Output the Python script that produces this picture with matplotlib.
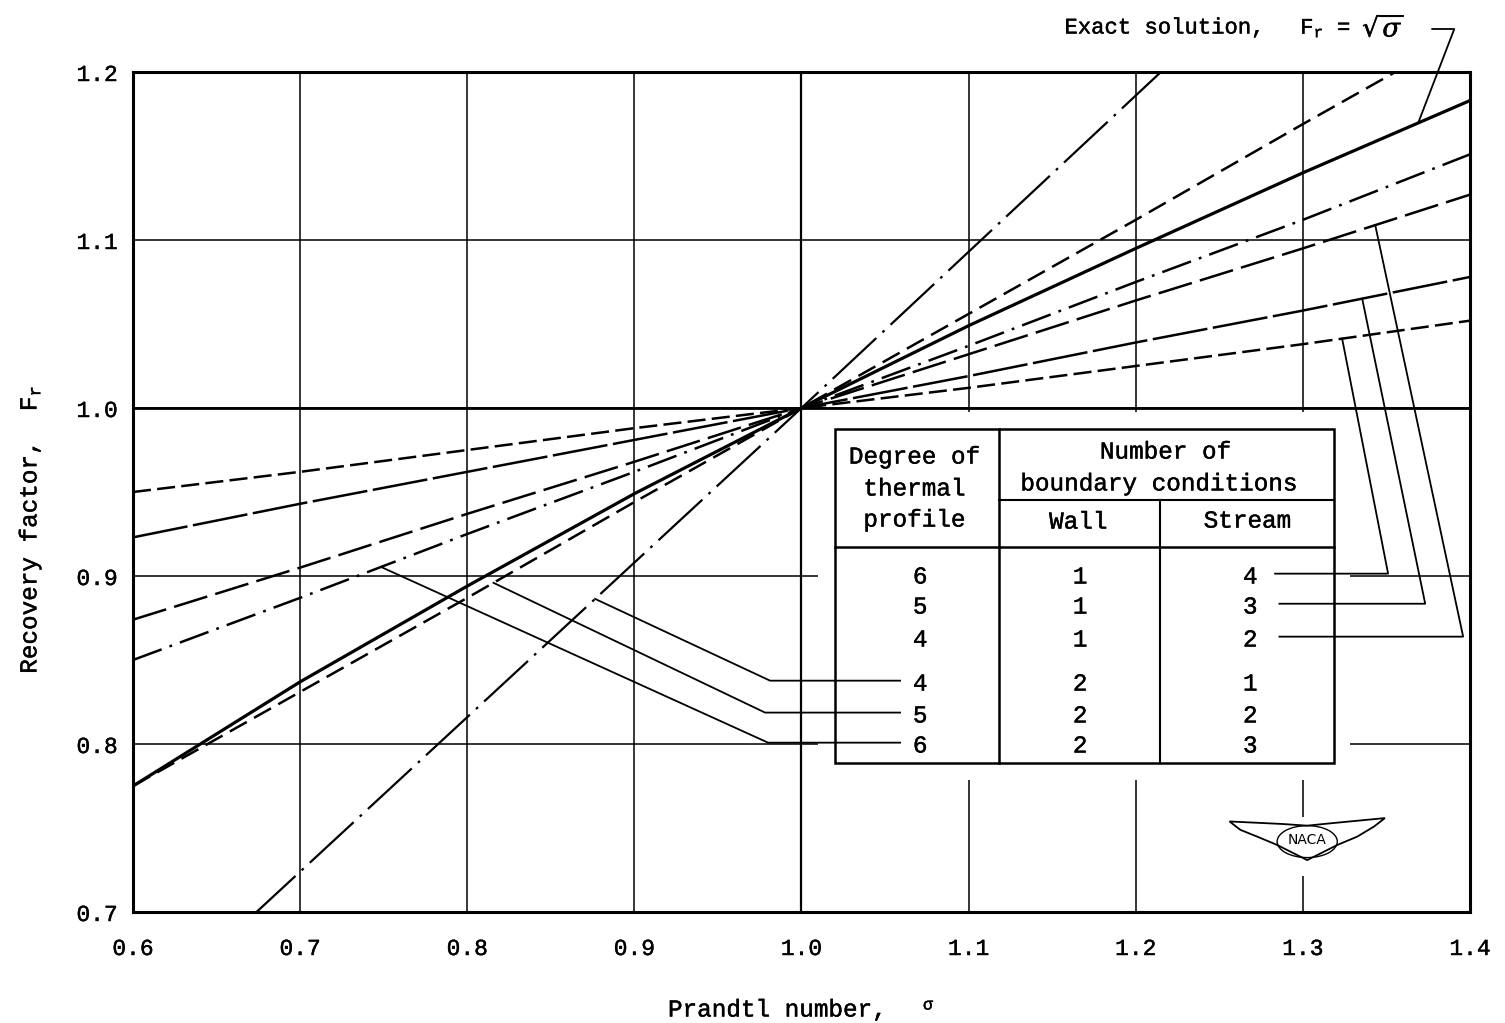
import numpy as np
import matplotlib.pyplot as plt
import matplotlib.patheffects as pe
from matplotlib.text import Text
from matplotlib.patches import Rectangle, Polygon, Ellipse

plt.rcParams['font.family'] = ['Liberation Mono', 'DejaVu Sans']
plt.rcParams['mathtext.fontset'] = 'dejavuserif'
plt.rcParams['lines.scale_dashes'] = False

# Prandtl number where the curves were read
sigma = [0.6, 0.7, 0.8, 0.9, 1.0, 1.1, 1.2, 1.3, 1.4]

# recovery factor (name = degree / wall / stream conditions)
exact = [0.775, 0.837, 0.894, 0.949, 1.0, 1.049, 1.095, 1.140, 1.183]
p6_w1_s4 = [0.950, 0.962, 0.975, 0.988, 1.0, 1.012, 1.025, 1.038, 1.052]
p5_w1_s3 = [0.923, 0.943, 0.962, 0.981, 1.0, 1.019, 1.039, 1.058, 1.078]
p4_w1_s2 = [0.874, 0.905, 0.937, 0.968, 1.0, 1.032, 1.064, 1.095, 1.127]
p6_w2_s3 = [0.850, 0.887, 0.925, 0.962, 1.0, 1.037, 1.075, 1.112, 1.151]
p5_w2_s2 = [0.775, 0.831, 0.887, 0.944, 1.0, 1.056, 1.112, 1.169, 1.225]
p4_w2_s1 = [0.632, 0.724, 0.816, 0.908, 1.0, 1.093, 1.186, 1.279, 1.372]

# table in the chart
degree = [6, 5, 4, 4, 5, 6]
wall = [1, 1, 1, 2, 2, 2]
stream = [4, 3, 2, 1, 2, 3]
row_y = [0.8994, 0.8815, 0.8619, 0.8357, 0.8167, 0.7988]

xticks = [0.6, 0.7, 0.8, 0.9, 1.0, 1.1, 1.2, 1.3, 1.4]
yticks = [0.7, 0.8, 0.9, 1.0, 1.1, 1.2]

fig = plt.figure(figsize=(15.05, 10.23), dpi=100)
ax = fig.add_axes([0.08837, 0.10850, 0.88837, 0.82111])
ax.set_xlim(0.6, 1.4)
ax.set_ylim(0.7, 1.2)
ax.set_xticks(xticks)
ax.set_xticklabels([f'{t:.1f}' for t in xticks])
ax.set_yticks(yticks)
ax.set_yticklabels([f'{t:.1f}' for t in yticks])
ax.tick_params(length=0, labelsize=16.5)
ax.tick_params(axis='x', pad=18)
ax.tick_params(axis='y', pad=11)
for s in ax.spines.values():
    s.set_linewidth(2.2)

ax.set_axisbelow(True)
ax.grid(True, color='k', lw=1.1)
ax.axhline(1.0, color='k', lw=2.0, zorder=0.6)
ax.axvline(1.0, color='k', lw=1.6, zorder=0.6)

# white margin round the table and the logo (gaps in the grid)
ax.add_patch(Rectangle((1.0099, 0.7786), 0.3184, 0.2190, fc='white', ec='none', zorder=1))
ax.add_patch(Rectangle((1.290, 0.7214), 0.025, 0.0351, fc='white', ec='none', zorder=1))

# curves
ax.plot(sigma, exact, color='k', lw=2.3, zorder=2)
ax.plot(sigma, p6_w1_s4, color='k', lw=1.8, dashes=(13, 4.5), zorder=2)
ax.plot(sigma, p5_w1_s3, color='k', lw=1.8, dashes=(40, 4), zorder=2)
ax.plot(sigma, p4_w1_s2, color='k', lw=1.8, dashes=(25, 6), zorder=2)
ax.plot(sigma, p6_w2_s3, color='k', lw=1.8, dashes=(22, 6, 2, 6), zorder=2)
ax.plot(sigma, p5_w2_s2, color='k', lw=1.8, dashes=(14, 6), zorder=2)
ax.plot(sigma, p4_w2_s1, color='k', lw=1.6, dashes=(43, 6, 2, 6), zorder=2)

# table
L, R, T, B = 1.0201, 1.3187, 0.9875, 0.7887
c1, c2 = 1.1182, 1.2146
ax.add_patch(Rectangle((L, B), R - L, T - B, fc='white', ec='k', lw=1.8, zorder=3))
ax.plot([c1, c1], [B, T], color='k', lw=1.8, zorder=3)
ax.plot([c2, c2], [B, 0.9452], color='k', lw=1.5, zorder=3)
ax.plot([c1, R], [0.9452, 0.9452], color='k', lw=1.5, zorder=3)
ax.plot([L, R], [0.9173, 0.9173], color='k', lw=1.8, zorder=3)

tkw = dict(ha='center', va='center', fontsize=17.5, zorder=4)
ax.text(1.0674, 0.9708, 'Degree of', **tkw)
ax.text(1.0674, 0.9518, 'thermal', **tkw)
ax.text(1.0674, 0.9333, 'profile', **tkw)
ax.text(1.2176, 0.9738, 'Number of', **tkw)
ax.text(1.2134, 0.9548, 'boundary conditions', **tkw)
ax.text(1.1655, 0.9321, 'Wall', **tkw)
ax.text(1.2667, 0.9327, 'Stream', **tkw)
for d, w, s, y in zip(degree, wall, stream, row_y):
    ax.text(1.071, y, str(d), **tkw)
    ax.text(1.1667, y, str(w), **tkw)
    ax.text(1.2685, y, str(s), **tkw)

# leader lines from table rows to curves
lkw = dict(color='k', lw=1.3, zorder=5, clip_on=False)
left = [(p4_w2_s1, 0.8765, 0.9812, row_y[3]),
        (p5_w2_s2, 0.8157, 0.9782, row_y[4]),
        (p6_w2_s3, 0.7484, 0.9800, row_y[5])]
for curve, s0, sc, y in left:
    ax.plot([s0, sc, 1.059], [np.interp(s0, sigma, curve), y + 0.002, y + 0.002], **lkw)

right = [(p6_w1_s4, 1.3235, 1.351, row_y[0], 1.2834),
         (p5_w1_s3, 1.3355, 1.3732, row_y[1], 1.286),
         (p4_w1_s2, 1.3433, 1.3959, row_y[2], 1.286)]
for curve, s0, sc, y, x0 in right:
    ax.plot([x0, sc, s0], [y + 0.002, y + 0.002, np.interp(s0, sigma, curve)], **lkw)

# exact solution label
ax.text(1.2774, 1.2262, 'Exact solution,', ha='right', va='center', fontsize=16, clip_on=False)
ax.text(1.2984, 1.2262, r'$\mathregular{F_r}$ =', ha='left', va='center', fontsize=16, clip_on=False)
ax.text(1.3355, 1.2262, r'$\sqrt{\sigma}$', ha='left', va='center', fontsize=19, clip_on=False)
ax.plot([1.3774, 1.3906, 1.369], [1.2256, 1.2256, np.interp(1.369, sigma, exact)], **lkw)

# NACA logo
cx, cy = 1.3026, 0.7429
wing = [(-0.0465, 0.011), (-0.015, 0.0095), (0.0, 0.0085), (0.015, 0.010), (0.0465, 0.013),
        (0.040, 0.008), (0.030, 0.002), (0.018, -0.003), (0.008, -0.008), (0.0, -0.012),
        (-0.008, -0.008), (-0.018, -0.003), (-0.030, 0.002), (-0.040, 0.006)]
ax.add_patch(Polygon([(cx + dx, cy + dy) for dx, dy in wing], closed=True,
                     fc='white', ec='k', lw=1.3, zorder=3))
ax.add_patch(Ellipse((cx, cy - 0.001), 0.036, 0.019, fc='none', ec='k', lw=1.0, zorder=3))
ax.text(cx, cy, 'NACA', ha='center', va='center', fontsize=10,
        family='DejaVu Sans', zorder=4)

fig.text(668 / 1505, 1 - 1010 / 1023, 'Prandtl number,', ha='left', va='center', fontsize=17.5)
fig.text(928 / 1505, 1 - 1005 / 1023, 'σ', ha='center', va='center', fontsize=12)
fig.text(30 / 1505, 1 - 530 / 1023, r'Recovery factor,  $\mathregular{F_r}$', ha='center', va='center',
         rotation=90, fontsize=17.5)

# typewriter text in the reference is a bit heavier than Liberation Mono
for t in fig.findobj(Text):
    if t.get_text() and t.get_text() != 'NACA':
        t.set_path_effects([pe.withStroke(linewidth=0.3, foreground='k')])

fig.savefig('out.png', dpi=100)
